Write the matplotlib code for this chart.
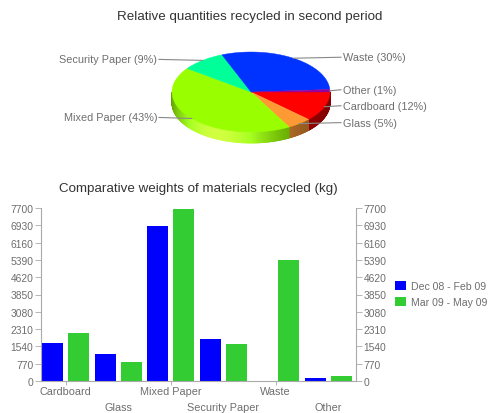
import numpy as np
import matplotlib
matplotlib.use("Agg")
import matplotlib.pyplot as plt
from matplotlib.collections import PolyCollection
from matplotlib.colors import to_rgb

plt.rcParams["font.family"] = ["Liberation Sans", "DejaVu Sans"]

# Second-period shares (pie), listed clockwise from 3 o'clock
pie_labels = ["Cardboard", "Glass", "Mixed Paper", "Security Paper", "Waste", "Other"]
pie_shares = [12, 5, 43, 9, 30, 1]
pie_colors = ["#ff0000", "#ff9933", "#99ff00", "#00ff99", "#0033ff", "#990099"]

# Weights per material (kg) for both periods
materials = ["Cardboard", "Glass", "Mixed Paper", "Security Paper", "Waste", "Other"]
period_1 = [1690, 1190, 6890, 1880, 0, 120]
period_2 = [2120, 840, 7660, 1650, 5380, 210]
period_names = ["Dec 08 - Feb 09", "Mar 09 - May 09"]
y_ticks = [0, 770, 1540, 2310, 3080, 3850, 4620, 5390, 6160, 6930, 7700]

TEXT = "#6e6e6e"
TITLE = "#333333"
AXIS = "#aaaaaa"

fig = plt.figure(figsize=(4.9, 4.14), dpi=100)

# ---- 3D-style pie, drawn in a pixel-like coordinate space ----
ax_p = fig.add_axes([0, 0.5, 1, 0.5])
ax_p.set_xlim(0, 490)
ax_p.set_ylim(207, 0)
ax_p.axis("off")

cx, cy, rx, ry, depth = 251, 93, 79, 40, 11


def ell(theta):
    t = np.radians(theta)
    return cx + rx * np.cos(t), cy - ry * np.sin(t)


def wall_shade(theta):
    # darker toward the sides, highlight slightly left of front
    g = np.exp(-((theta - 245) / 55.0) ** 2)
    return 0.5 + 0.45 * g, 0.25 * g ** 3


slices = []
start = 0.0
for share in pie_shares:
    sweep = share * 3.6
    slices.append((start - sweep, start))
    start -= sweep

# side walls (front half only)
quads, qcolors = [], []
for (a, b), col in zip(slices, pie_colors):
    base = np.array(to_rgb(col))
    steps = np.arange(a, b, 0.5)
    for t0 in steps:
        t1 = min(t0 + 0.5, b)
        mid = (0.5 * (t0 + t1)) % 360
        if mid <= 180:
            continue
        x0, y0 = ell(t0)
        x1, y1 = ell(t1)
        quads.append([(x0, y0), (x1, y1), (x1, y1 + depth), (x0, y0 + depth)])
        f, w = wall_shade(mid)
        qcolors.append(np.clip(base * f + w, 0, 1))
ax_p.add_collection(PolyCollection(quads, facecolors=qcolors, edgecolors=qcolors,
                                   linewidths=0.6))

# top faces
for (a, b), col in zip(slices, pie_colors):
    th = np.linspace(a, b, max(int(b - a) * 2, 4))
    xs, ys = ell(th)
    poly = [(cx, cy)] + list(zip(xs, ys))
    ax_p.add_patch(plt.Polygon(poly, closed=True, facecolor=col, edgecolor=col,
                               linewidth=0.3))

# leader lines and labels
for (a, b), name, share in zip(slices, pie_labels, pie_shares):
    mid = 0.5 * (a + b)
    px, py = ell(mid)
    text = f"{name} ({share}%)"
    if np.cos(np.radians(mid)) >= 0:
        ax_p.plot([px, 341], [py, py - 1], color="#888888", lw=0.8)
        ax_p.text(343, py - 1, text, ha="left", va="center", fontsize=7.8, color=TEXT)
    else:
        ax_p.plot([px, 159], [py, py - 1], color="#888888", lw=0.8)
        ax_p.text(157, py - 1, text, ha="right", va="center", fontsize=7.8, color=TEXT)

fig.text(250 / 490, 1 - 17 / 414, "Relative quantities recycled in second period",
         ha="center", va="center", fontsize=9.6, color=TITLE)

# ---- grouped bar chart ----
ax = fig.add_axes([41 / 490, 32 / 414, 315 / 490, 173 / 414])
x = np.arange(len(materials))
ax.bar(x - 0.25, period_1, width=0.4, color="#0000ff", label=period_names[0])
ax.bar(x + 0.25, period_2, width=0.4, color="#33cc33", label=period_names[1])

ax.set_xlim(-0.47, 5.53)
ax.set_ylim(0, 7700)
ax.set_yticks(y_ticks)
ax.tick_params(axis="y", left=True, right=True, labelleft=True, labelright=True,
               length=4, width=0.6, color=AXIS, labelsize=7.4, labelcolor=TEXT, pad=1.5)
ax.set_xticks([0, 2, 4])
ax.set_xticklabels([])
ax.tick_params(axis="x", length=3, width=0.6, color=AXIS)
for side in ("left", "right", "bottom"):
    ax.spines[side].set_color(AXIS)
    ax.spines[side].set_linewidth(0.8)
ax.spines["top"].set_visible(False)

# staggered category labels
for i, name in enumerate(materials):
    off = -7 if i % 2 == 0 else -18.5
    ax.annotate(name, xy=(i, 0), xycoords=("data", "axes fraction"),
                xytext=(0, off), textcoords="offset points",
                ha="center", va="center", fontsize=7.8, color=TEXT)

fig.text(198 / 490, 1 - 189 / 414, "Comparative weights of materials recycled (kg)",
         ha="center", va="center", fontsize=9.6, color=TITLE)

fig.legend(loc="center left", bbox_to_anchor=(390 / 490, 1 - 295 / 414),
           frameon=False, handlelength=1.0, handleheight=1.0, handletextpad=0.45,
           labelspacing=0.55, fontsize=7.6, labelcolor=TEXT, borderpad=0)

fig.savefig("out.png", dpi=100)
